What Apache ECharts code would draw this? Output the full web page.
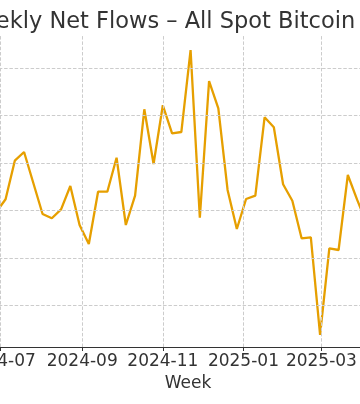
<!DOCTYPE html>
<html><head><meta charset="utf-8">
<script src="https://cdn.jsdelivr.net/npm/echarts@6/dist/echarts.min.js"></script>
<style>
html,body{margin:0;padding:0;overflow:hidden;width:360px;height:404px;background:#fff}
#wrap{position:absolute;left:-212px;top:0;width:800px;height:404px}
</style>
</head><body><div id="wrap"></div>
<script>
// Week ending dates (Fridays)
const weeks = [
  '2024-06-28','2024-07-05','2024-07-12','2024-07-19','2024-07-26','2024-08-02','2024-08-09',
  '2024-08-16','2024-08-23','2024-08-30','2024-09-06','2024-09-13','2024-09-20','2024-09-27',
  '2024-10-04','2024-10-11','2024-10-18','2024-10-25','2024-11-01','2024-11-08','2024-11-15',
  '2024-11-22','2024-11-29','2024-12-06','2024-12-13','2024-12-20','2024-12-27','2025-01-03',
  '2025-01-10','2025-01-17','2025-01-24','2025-01-31','2025-02-07','2025-02-14','2025-02-21',
  '2025-02-28','2025-03-07','2025-03-14','2025-03-21','2025-03-28','2025-04-04'
];
// Weekly net flows, USD millions
const netFlows = [
  -30, 238, 1051, 1234, 581, -72, -162,
  27, 518, -303, -703, 398, 398, 1114,
  -303, 314, 2133, 981, 2218, 1628, 1655,
  3382, -150, 2729, 2154, 434, -388, 244,
  314, 1965, 1754, 554, 208, -583, -562,
  -2620, -794, -830, 750, 230, -250
];
const xTickLabels = ['2024-07','2024-09','2024-11','2025-01','2025-03'];
const yGridValues = [-2000, -1000, 0, 1000, 2000, 3000];

const DAY = 86400000;
const base = Date.UTC(2024, 6, 1);
const xMin = base - 145.5 * DAY;
const xMax = base + 429.6 * DAY;
const tickTs = xTickLabels.map(s => Date.parse(s + '-01'));
const seriesData = weeks.map((w, i) => [Date.parse(w), netFlows[i]]);

const FONT = 'DejaVu Sans';
const gridStyle = {color: '#cccccc', width: 1, type: [3.5, 1.8]};

const chart = echarts.init(document.getElementById('wrap'), null, {renderer: 'canvas'});
chart.setOption({
  animation: false,
  backgroundColor: '#ffffff',
  title: {
    text: 'Weekly Net Flows – All Spot Bitcoin ETFs',
    left: 'center', top: 6,
    textStyle: {fontFamily: FONT, fontSize: 22.5, fontWeight: 'normal', color: '#333333'}
  },
  grid: {left: 20, right: 20, top: 36, bottom: 57, containLabel: false},
  xAxis: {
    type: 'value', min: xMin, max: xMax, scale: true,
    name: 'Week', nameLocation: 'middle', nameGap: 27,
    nameTextStyle: {fontFamily: FONT, fontSize: 17, color: '#333333'},
    axisLine: {show: true, onZero: false, lineStyle: {color: '#333333', width: 1.2}},
    axisTick: {show: true, length: 4, lineStyle: {color: '#333333', width: 1}, customValues: tickTs},
    axisLabel: {
      show: true, margin: 6, fontFamily: FONT, fontSize: 17, color: '#333333',
      customValues: tickTs, hideOverlap: false,
      formatter: v => new Date(v).toISOString().slice(0, 7)
    },
    splitLine: {show: false}
  },
  yAxis: {
    type: 'value', min: -2873, max: 3677,
    axisLine: {show: false}, axisTick: {show: false}, axisLabel: {show: false},
    splitLine: {show: false}
  },
  series: [
    {
      type: 'line', data: [], z: 1, silent: true,
      markLine: {
        silent: true, symbol: 'none', label: {show: false},
        lineStyle: gridStyle, animation: false,
        data: yGridValues.map(v => ({yAxis: v})).concat(tickTs.map(t => ({xAxis: t})))
      }
    },
    {
      type: 'line', data: seriesData, z: 3, showSymbol: false, symbol: 'none',
      lineStyle: {color: '#E69F00', width: 2.3}, itemStyle: {color: '#E69F00'}
    }
  ]
});
</script>
</body></html>
